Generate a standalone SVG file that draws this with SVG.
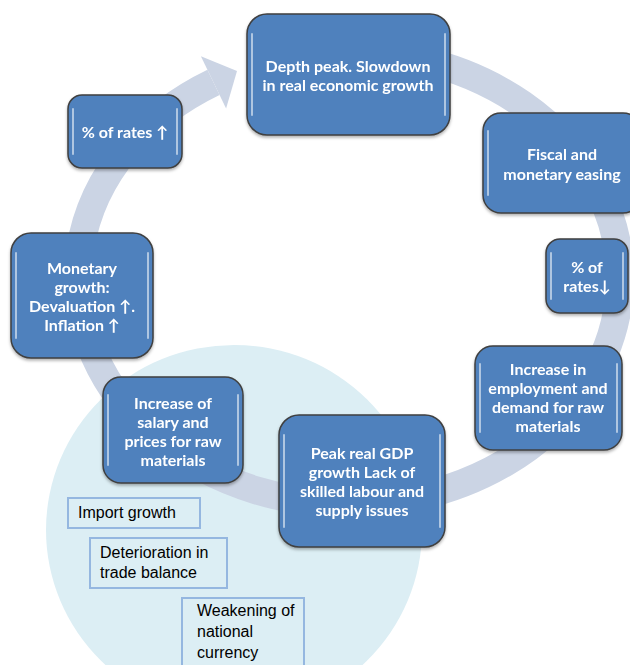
<svg xmlns="http://www.w3.org/2000/svg" width="630" height="665" viewBox="0 0 630 665">
<style>
.node rect.b{fill:#4F81BD;stroke:#3F3F3F;stroke-width:1.5}
.node line{stroke:#FFFFFF;stroke-opacity:0.55;stroke-width:2;stroke-linecap:round}
.node text{font-family:Lato,"Open Sans",sans-serif;font-weight:bold;font-size:16px;fill:#FFFFFF;text-anchor:middle}
.tb rect{fill:#DCEEF4;stroke:#95B7E0;stroke-width:2}
.tb text{font-family:"Liberation Sans",Arial,sans-serif;font-size:16px;fill:#000000}
</style>
<defs>
<filter id="sh" x="-10%" y="-10%" width="120%" height="130%">
<feDropShadow dx="0" dy="2" stdDeviation="1.5" flood-color="#000" flood-opacity="0.3"/>
</filter>
</defs>
<rect width="630" height="665" fill="#FFFFFF"/>
<ellipse id="bg-circle" cx="234" cy="530" rx="188" ry="185" fill="#DCEEF4"/>
<g id="connectors">
<path d="M419.1 59.7 A271 226 0 1 1 213.5 82.3" fill="none" stroke="#CBD4E4" stroke-width="28"/>
<polygon points="200.9,56.2 237,71 226.1,108.4" fill="#CBD4E4"/>
</g>
<g id="n1" class="node" filter="url(#sh)">
<rect class="b" x="247" y="14" width="203" height="121" rx="20"/>
<line x1="252" y1="34" x2="252" y2="115"/><line x1="445" y1="34" x2="445" y2="115"/>
<text x="348" y="72">Depth peak. Slowdown</text>
<text x="348" y="91">in real economic growth</text>
</g>
<g id="n2" class="node" filter="url(#sh)">
<rect class="b" x="483" y="113" width="158" height="100" rx="18"/>
<line x1="488" y1="131" x2="488" y2="195"/>
<text x="562" y="159.5">Fiscal and</text>
<text x="562" y="179.5">monetary easing</text>
</g>
<g id="n3" class="node" filter="url(#sh)">
<rect class="b" x="546" y="239" width="82" height="74" rx="14"/>
<line x1="551" y1="253" x2="551" y2="299"/><line x1="623" y1="253" x2="623" y2="299"/>
<text x="587" y="272.5">% of</text>
<text x="587" y="291.5">rates↓</text>
</g>
<g id="n4" class="node" filter="url(#sh)">
<rect class="b" x="475" y="346" width="147" height="104" rx="18"/>
<line x1="480" y1="364" x2="480" y2="432"/><line x1="617" y1="364" x2="617" y2="432"/>
<text x="548" y="374.5">Increase in</text>
<text x="548" y="393.5">employment and</text>
<text x="548" y="412.5">demand for raw</text>
<text x="548" y="431.5">materials</text>
</g>
<g id="n5" class="node" filter="url(#sh)">
<rect class="b" x="279" y="415" width="166" height="132" rx="20"/>
<line x1="284" y1="435" x2="284" y2="527"/><line x1="440" y1="435" x2="440" y2="527"/>
<text x="362" y="458.5">Peak real GDP</text>
<text x="362" y="477.5">growth Lack of</text>
<text x="362" y="496.5">skilled labour and</text>
<text x="362" y="515.5">supply issues</text>
</g>
<g id="n6" class="node" filter="url(#sh)">
<rect class="b" x="103" y="377" width="140" height="106" rx="18"/>
<line x1="108" y1="395" x2="108" y2="465"/><line x1="238" y1="395" x2="238" y2="465"/>
<text x="173" y="408.5">Increase of</text>
<text x="173" y="427.5">salary and</text>
<text x="173" y="446.5">prices for raw</text>
<text x="173" y="465.5">materials</text>
</g>
<g id="n7" class="node" filter="url(#sh)">
<rect class="b" x="11" y="233" width="142" height="125" rx="20"/>
<line x1="16" y1="253" x2="16" y2="338"/><line x1="148" y1="253" x2="148" y2="338"/>
<text x="82" y="273.5">Monetary</text>
<text x="82" y="292.5">growth:</text>
<text x="82" y="311.5">Devaluation ↑.</text>
<text x="82" y="330.5">Inflation ↑</text>
</g>
<g id="n8" class="node" filter="url(#sh)">
<rect class="b" x="68" y="95" width="114" height="73" rx="14"/>
<line x1="73" y1="109" x2="73" y2="154"/><line x1="177" y1="109" x2="177" y2="154"/>
<text x="125" y="137.5">% of rates ↑</text>
</g>
<g id="t1" class="tb">
<rect x="68" y="498" width="132" height="30"/>
<text x="78" y="518">Import growth</text>
</g>
<g id="t2" class="tb">
<rect x="90" y="538" width="137" height="50"/>
<text x="100" y="558">Deterioration in</text>
<text x="100" y="578">trade balance</text>
</g>
<g id="t3" class="tb">
<rect x="182" y="598" width="122" height="72"/>
<text x="197" y="616">Weakening of</text>
<text x="197" y="637">national</text>
<text x="197" y="658">currency</text>
</g>
</svg>
